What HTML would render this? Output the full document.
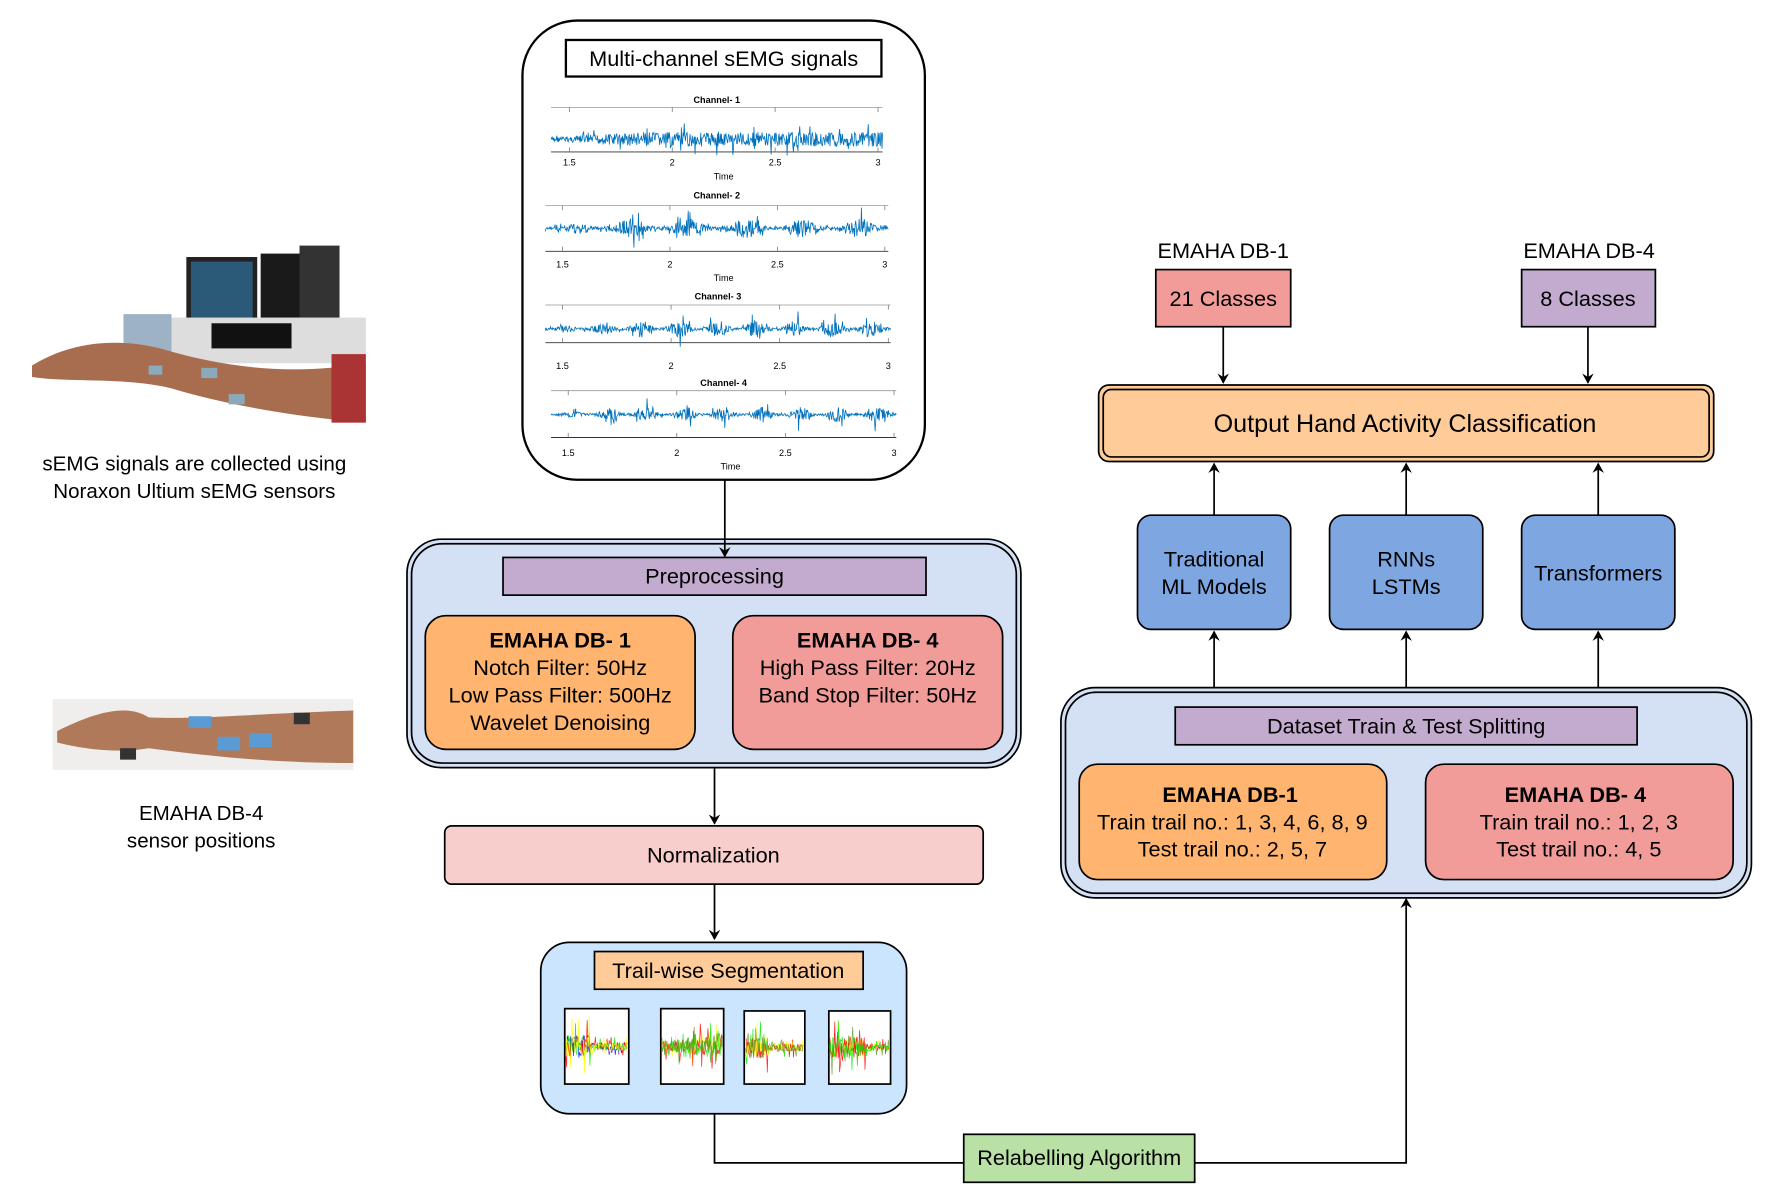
<!DOCTYPE html>
<html><head><meta charset="utf-8"><style>
html,body{margin:0;padding:0;background:#fff;}
svg{display:block;}
text{font-family:"Liberation Sans",Arial,sans-serif;fill:#000;}
</style></head><body>
<svg id="s" width="1772" height="1188" viewBox="0 0 1550 1040" preserveAspectRatio="none" xmlns="http://www.w3.org/2000/svg">
<defs>
<marker id="a" markerWidth="10" markerHeight="10" refX="8" refY="5" orient="auto" markerUnits="userSpaceOnUse"><path d="M0,0 L9,5 L0,10 L3,5 z" fill="#000"/></marker>
</defs>
<rect width="1550" height="1040" fill="#fff"/>

<!-- Left photos (approximate) -->
<g>
<rect x="163" y="225" width="62" height="62" fill="#222"/><rect x="167" y="229" width="54" height="50" fill="#2a5a78"/>
<rect x="228" y="222" width="65" height="62" fill="#1a1a1a"/>
<rect x="262" y="215" width="35" height="75" fill="#333"/>
<rect x="150" y="278" width="170" height="40" fill="#ddd"/>
<rect x="185" y="283" width="70" height="22" fill="#111"/>
<rect x="108" y="275" width="42" height="40" fill="#9db2c4"/>
<path d="M28,320 C60,300 100,295 140,305 C190,320 250,330 320,318 L320,370 C260,365 200,355 150,340 C110,330 60,335 28,330 Z" fill="#a86c4e"/>
<rect x="290" y="310" width="30" height="60" fill="#a33"/>
<rect x="176" y="322" width="14" height="9" fill="#8ab"/><rect x="200" y="345" width="14" height="9" fill="#8ab"/><rect x="130" y="320" width="12" height="8" fill="#8ab"/>
</g>
<g>
<rect x="46" y="612" width="263" height="62" fill="#f0eeec"/>
<path d="M50,640 C80,625 110,615 130,628 C170,630 220,625 309,622 L309,668 C230,668 170,660 130,655 C100,660 70,655 50,650 Z" fill="#b07a5a"/>
<rect x="165" y="627" width="20" height="10" fill="#5a9bd5"/><rect x="190" y="645" width="20" height="12" fill="#5a9bd5"/><rect x="218" y="642" width="20" height="12" fill="#5a9bd5"/><rect x="257" y="624" width="14" height="10" fill="#333"/><rect x="105" y="655" width="14" height="10" fill="#333"/>
</g>
<text x="170" y="412" font-size="18" text-anchor="middle">sEMG signals are collected using</text>
<text x="170" y="436" font-size="18" text-anchor="middle">Noraxon Ultium sEMG sensors</text>
<text x="176" y="718" font-size="18" text-anchor="middle">EMAHA DB-4</text>
<text x="176" y="742" font-size="18" text-anchor="middle">sensor positions</text>

<!-- Signals box -->
<rect x="457" y="18" width="352" height="402" rx="48" fill="#fff" stroke="#000" stroke-width="2"/>
<rect x="495" y="35" width="276" height="32" fill="#fff" stroke="#000" stroke-width="2"/>
<text x="633" y="58" font-size="19" text-anchor="middle">Multi-channel sEMG signals</text>
<g id="plots" font-size="8"></g>

<!-- Preprocessing -->
<rect x="356" y="472" width="537" height="200" rx="30" fill="#d4e1f5" stroke="#000" stroke-width="1.5"/>
<rect x="360" y="476" width="529" height="192" rx="27" fill="none" stroke="#000" stroke-width="1.5"/>
<line x1="634" y1="420" x2="634" y2="487" stroke="#000" stroke-width="1.5" marker-end="url(#a)"/>
<rect x="440" y="488" width="370" height="33" fill="#c3abd0" stroke="#000" stroke-width="1.5"/>
<text x="625" y="511" font-size="19" text-anchor="middle">Preprocessing</text>
<rect x="372" y="539" width="236" height="117" rx="18" fill="#ffb570" stroke="#000" stroke-width="1.5"/>
<text x="490" y="567" font-size="19" font-weight="bold" text-anchor="middle">EMAHA DB- 1</text>
<text x="490" y="591" font-size="19" text-anchor="middle">Notch Filter: 50Hz</text>
<text x="490" y="615" font-size="19" text-anchor="middle">Low Pass Filter: 500Hz</text>
<text x="490" y="639" font-size="19" text-anchor="middle">Wavelet Denoising</text>
<rect x="641" y="539" width="236" height="117" rx="18" fill="#f19c99" stroke="#000" stroke-width="1.5"/>
<text x="759" y="567" font-size="19" font-weight="bold" text-anchor="middle">EMAHA DB- 4</text>
<text x="759" y="591" font-size="19" text-anchor="middle">High Pass Filter: 20Hz</text>
<text x="759" y="615" font-size="19" text-anchor="middle">Band Stop Filter: 50Hz</text>

<line x1="625" y1="672" x2="625" y2="721" stroke="#000" stroke-width="1.5" marker-end="url(#a)"/>
<rect x="389" y="723" width="471" height="51" rx="6" fill="#f8cecc" stroke="#000" stroke-width="1.5"/>
<text x="624" y="755" font-size="19" text-anchor="middle">Normalization</text>
<line x1="625" y1="774" x2="625" y2="822" stroke="#000" stroke-width="1.5" marker-end="url(#a)"/>

<!-- Segmentation -->
<rect x="473" y="825" width="320" height="150" rx="25" fill="#cce5ff" stroke="#000" stroke-width="1.5"/>
<rect x="520" y="833" width="235" height="33" fill="#ffcc99" stroke="#000" stroke-width="1.5"/>
<text x="637" y="856" font-size="19" text-anchor="middle">Trail-wise Segmentation</text>
<g id="segs"></g>

<!-- Relabelling -->
<polyline points="625,975 625,1018 843,1018" fill="none" stroke="#000" stroke-width="1.5"/>
<rect x="843" y="993" width="202" height="42" fill="#b9e0a5" stroke="#000" stroke-width="1.5"/>
<text x="944" y="1020" font-size="19" text-anchor="middle">Relabelling Algorithm</text>
<polyline points="1045,1018 1230,1018 1230,787" fill="none" stroke="#000" stroke-width="1.5" marker-end="url(#a)"/>

<!-- Right side -->
<text x="1070" y="226" font-size="19" text-anchor="middle">EMAHA DB-1</text>
<text x="1390" y="226" font-size="19" text-anchor="middle">EMAHA DB-4</text>
<rect x="1011" y="236" width="118" height="50" fill="#f19c99" stroke="#000" stroke-width="1.5"/>
<text x="1070" y="268" font-size="19" text-anchor="middle">21 Classes</text>
<rect x="1331" y="236" width="117" height="50" fill="#c3abd0" stroke="#000" stroke-width="1.5"/>
<text x="1389" y="268" font-size="19" text-anchor="middle">8 Classes</text>
<line x1="1070" y1="286" x2="1070" y2="335" stroke="#000" stroke-width="1.5" marker-end="url(#a)"/>
<line x1="1389" y1="286" x2="1389" y2="335" stroke="#000" stroke-width="1.5" marker-end="url(#a)"/>

<rect x="961" y="337" width="538" height="67" rx="9" fill="#ffcc99" stroke="#000" stroke-width="1.5"/>
<rect x="965" y="341" width="530" height="59" rx="7" fill="none" stroke="#000" stroke-width="1.5"/>
<text x="1229" y="378" font-size="22" text-anchor="middle">Output Hand Activity Classification</text>

<g stroke="#000" stroke-width="1.5">
<line x1="1062" y1="451" x2="1062" y2="406" marker-end="url(#a)"/>
<line x1="1230" y1="451" x2="1230" y2="406" marker-end="url(#a)"/>
<line x1="1398" y1="451" x2="1398" y2="406" marker-end="url(#a)"/>
<line x1="1062" y1="602" x2="1062" y2="553" marker-end="url(#a)"/>
<line x1="1230" y1="602" x2="1230" y2="553" marker-end="url(#a)"/>
<line x1="1398" y1="602" x2="1398" y2="553" marker-end="url(#a)"/>
</g>
<rect x="995" y="451" width="134" height="100" rx="12" fill="#7ea6e0" stroke="#000" stroke-width="1.5"/>
<text x="1062" y="496" font-size="19" text-anchor="middle">Traditional</text>
<text x="1062" y="520" font-size="19" text-anchor="middle">ML Models</text>
<rect x="1163" y="451" width="134" height="100" rx="12" fill="#7ea6e0" stroke="#000" stroke-width="1.5"/>
<text x="1230" y="496" font-size="19" text-anchor="middle">RNNs</text>
<text x="1230" y="520" font-size="19" text-anchor="middle">LSTMs</text>
<rect x="1331" y="451" width="134" height="100" rx="12" fill="#7ea6e0" stroke="#000" stroke-width="1.5"/>
<text x="1398" y="508" font-size="19" text-anchor="middle">Transformers</text>

<rect x="928" y="602" width="604" height="184" rx="30" fill="#d4e1f5" stroke="#000" stroke-width="1.5"/>
<rect x="932" y="606" width="596" height="176" rx="27" fill="none" stroke="#000" stroke-width="1.5"/>
<rect x="1028" y="619" width="404" height="33" fill="#c3abd0" stroke="#000" stroke-width="1.5"/>
<text x="1230" y="642" font-size="19" text-anchor="middle">Dataset Train &amp; Test Splitting</text>
<rect x="944" y="669" width="269" height="101" rx="16" fill="#ffb570" stroke="#000" stroke-width="1.5"/>
<text x="1076" y="702" font-size="19" font-weight="bold" text-anchor="middle">EMAHA DB-1</text>
<text x="1078" y="726" font-size="19" text-anchor="middle">Train trail no.: 1, 3, 4, 6, 8, 9</text>
<text x="1078" y="750" font-size="19" text-anchor="middle">Test trail no.: 2, 5, 7</text>
<rect x="1247" y="669" width="269" height="101" rx="16" fill="#f19c99" stroke="#000" stroke-width="1.5"/>
<text x="1378" y="702" font-size="19" font-weight="bold" text-anchor="middle">EMAHA DB- 4</text>
<text x="1381" y="726" font-size="19" text-anchor="middle">Train trail no.: 1, 2, 3</text>
<text x="1381" y="750" font-size="19" text-anchor="middle">Test trail no.: 4, 5</text>
</svg>
<script>
(function(){
var NS="http://www.w3.org/2000/svg";
function el(t,a,p){var e=document.createElementNS(NS,t);for(var k in a)e.setAttribute(k,a[k]);p.appendChild(e);return e;}
var seed=7;function r(){seed=(seed*9301+49297)%233280;return seed/233280;}
var P=document.getElementById("plots");
var chans=[
 {t:"Channel- 1",ty:90,x0:482,x1:772,top:94,bot:133,c:122,amp:9,lab:145,lx:[498,588,678,768],time:157,tx:633},
 {t:"Channel- 2",ty:174,x0:477,x1:777,top:180,bot:220,c:200,amp:13,lab:234,lx:[492,586,680,774],time:246,tx:633},
 {t:"Channel- 3",ty:262,x0:477,x1:779,top:267,bot:300,c:288,amp:11,lab:323,lx:[492,587,682,777],time:null},
 {t:"Channel- 4",ty:338,x0:482,x1:784,top:342,bot:383,c:363,amp:10,lab:399,lx:[497,592,687,782],time:411,tx:639}
];
chans.forEach(function(ch,i){
 el("text",{x:(ch.x0+ch.x1)/2,y:ch.ty,"font-size":"8","font-weight":"bold","text-anchor":"middle"},P).textContent=ch.t;
 el("line",{x1:ch.x0,y1:ch.top,x2:ch.x1,y2:ch.top,stroke:"#999","stroke-width":"0.7"},P);
 el("line",{x1:ch.x0,y1:ch.bot,x2:ch.x1,y2:ch.bot,stroke:"#333","stroke-width":"0.8"},P);
 var labs=["1.5","2","2.5","3"];
 ch.lx.forEach(function(x,j){
  el("line",{x1:x,y1:ch.top,x2:x,y2:ch.top+4,stroke:"#666","stroke-width":"0.6"},P);
  el("line",{x1:x,y1:ch.bot,x2:x,y2:ch.bot-4,stroke:"#666","stroke-width":"0.6"},P);
  el("text",{x:x,y:ch.lab,"font-size":"8","text-anchor":"middle",fill:"#333"},P).textContent=labs[j];
 });
 if(ch.time) el("text",{x:ch.tx,y:ch.time,"font-size":"8","text-anchor":"middle",fill:"#333"},P).textContent="Time";
 var pts=[];
 for(var x=ch.x0;x<=ch.x1;x+=0.5){
  var f=(x-ch.x0)/(ch.x1-ch.x0);
  var env=(i==0)?(0.3+0.7*Math.min(1,f*4)):(0.15+0.85*Math.pow(Math.abs(Math.sin(f*Math.PI*(i==1?6:9))),3)*Math.min(1,f*5));
  var v=(r()*2-1)*ch.amp*env*(r()<0.1?1.6:0.7);
  pts.push(x.toFixed(1)+","+(ch.c+v).toFixed(1));
 }
 el("polyline",{points:pts.join(" "),fill:"none",stroke:"#0072bd","stroke-width":"0.7"},P);
});
var S=document.getElementById("segs");
var boxes=[[494,883,56,66],[578,883,55,66],[651,885,53,64],[725,885,54,64]];
var cols=[["#0000ff","#ff0000","#00dd00","#ffff00"],["#ffff00","#ff0000","#00ee00","#6a9a2a"],["#00ee00","#ff0000","#ffff00","#6a9a2a"],["#ffff00","#6a9a2a","#ff0000","#00ee00"]];
boxes.forEach(function(b,i){
 el("rect",{x:b[0],y:b[1],width:b[2],height:b[3],fill:"#fff",stroke:"#000","stroke-width":"1.5"},S);
 var cy=b[1]+b[3]/2;
 cols[i].forEach(function(c,k){
  var pts=[];
  for(var x=b[0]+1;x<=b[0]+b[2]-1;x+=0.6){
   var f=(x-b[0])/b[2];
   var env=(i==3)?(f<0.6?1:0.3):(i==1?0.5+0.5*f:(f<0.4?1:0.35));
   var v=(r()*2-1)*b[3]*0.3*env*(r()<0.15?1.3:0.5);
   pts.push(x.toFixed(1)+","+(cy+v).toFixed(1));
  }
  el("polyline",{points:pts.join(" "),fill:"none",stroke:c,"stroke-width":"0.6",opacity:"0.85"},S);
 });
});
})();
</script>
</body></html>
